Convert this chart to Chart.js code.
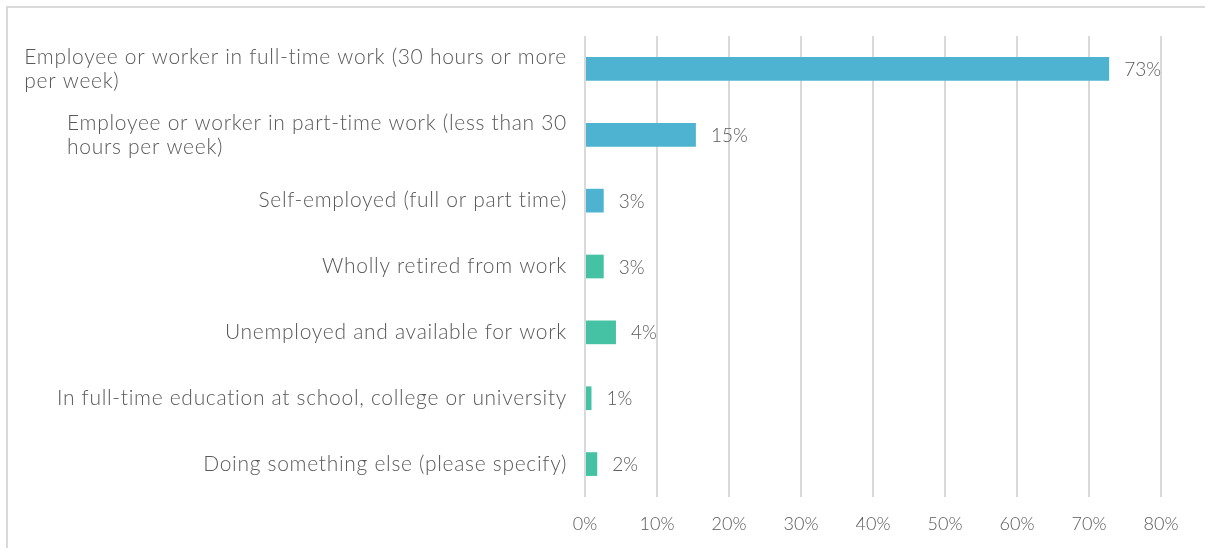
<!DOCTYPE html>
<html>
<head>
<meta charset="utf-8">
<script src="https://cdn.jsdelivr.net/npm/chart.js@4.4.1/dist/chart.umd.min.js"></script>
<style>
  html, body { margin: 0; padding: 0; background: #fff; }
  #wrap { position: relative; width: 1205px; height: 548px; overflow: hidden; }
  #frame { position: absolute; left: 6px; top: 6px; right: -4px; bottom: -4px;
           border-left: 2px solid #d9d9d9; border-top: 2px solid #d9d9d9; }
  canvas { position: absolute; left: 0; top: 0; }
</style>
</head>
<body>
<div id="wrap">
  <div id="frame"></div>
  <canvas id="chart" width="1205" height="548"></canvas>
</div>
<script>
// data
const categories = [
  ['Employee or worker in full-time work (30 hours or more', 'per week)'],
  ['Employee or worker in part-time work (less than 30', 'hours per week)'],
  ['Self-employed (full or part time)'],
  ['Wholly retired from work'],
  ['Unemployed and available for work'],
  ['In full-time education at school, college or university'],
  ['Doing something else (please specify)']
];
const values = [72.8, 15.4, 2.6, 2.6, 4.3, 0.9, 1.7];
const valueLabels = ['73%', '15%', '3%', '3%', '4%', '1%', '2%'];
const barColors = ['#4eb3d1', '#4eb3d1', '#4eb3d1', '#45c2a3', '#45c2a3', '#45c2a3', '#45c2a3'];
const xTicks = [0, 10, 20, 30, 40, 50, 60, 70, 80];

const FONT = 'Lato, "Open Sans", sans-serif';
const TEXT = '#595959';

// category labels: block right-aligned, lines left-aligned inside it
const catLabels = {
  id: 'catLabels',
  afterDraw(chart) {
    const { ctx, chartArea } = chart;
    const y = chart.scales.y;
    ctx.save();
    ctx.font = '300 21px ' + FONT;
    ctx.letterSpacing = '0.7px';
    ctx.fillStyle = TEXT;
    ctx.textBaseline = 'middle';
    ctx.textAlign = 'left';
    categories.forEach((lines, i) => {
      const cy = y.getPixelForValue(i);
      const w = Math.max(...lines.map(l => ctx.measureText(l).width));
      const x0 = chartArea.left - 18 - w;
      lines.forEach((l, j) => {
        ctx.fillText(l, x0, cy - (lines.length - 1) * 12 + j * 24);
      });
    });
    ctx.restore();
  }
};

// value labels after bar ends
const valLabels = {
  id: 'valLabels',
  afterDatasetsDraw(chart) {
    const { ctx } = chart;
    const meta = chart.getDatasetMeta(0);
    ctx.save();
    ctx.font = '300 19px ' + FONT;
    ctx.fillStyle = TEXT;
    ctx.textBaseline = 'middle';
    ctx.textAlign = 'left';
    meta.data.forEach((bar, i) => {
      ctx.fillText(valueLabels[i], bar.x + 15, bar.y + 1);
    });
    ctx.restore();
  }
};

new Chart(document.getElementById('chart'), {
  type: 'bar',
  data: {
    labels: categories,
    datasets: [{
      data: values,
      backgroundColor: barColors,
      categoryPercentage: 1,
      barPercentage: 0.36
    }]
  },
  options: {
    indexAxis: 'y',
    responsive: false,
    animation: false,
    layout: { padding: { top: 36, right: 44, left: 0, bottom: 0 } },
    plugins: { legend: { display: false }, tooltip: { enabled: false } },
    scales: {
      x: {
        min: 0, max: 80,
        afterBuildTicks(scale) { scale.ticks = xTicks.map(v => ({ value: v })); },
        afterFit(scale) { scale.height = 51; },
        grid: { color: '#d9d9d9', lineWidth: 2, drawTicks: false },
        border: { display: false },
        ticks: {
          color: TEXT, padding: 16,
          font: { family: FONT, size: 18, weight: 300 },
          callback: v => v + '%'
        }
      },
      y: {
        afterFit(scale) { scale.width = 585; },
        grid: { display: false },
        border: { display: false },
        ticks: { display: false }
      }
    }
  },
  plugins: [catLabels, valLabels]
});
</script>
</body>
</html>
